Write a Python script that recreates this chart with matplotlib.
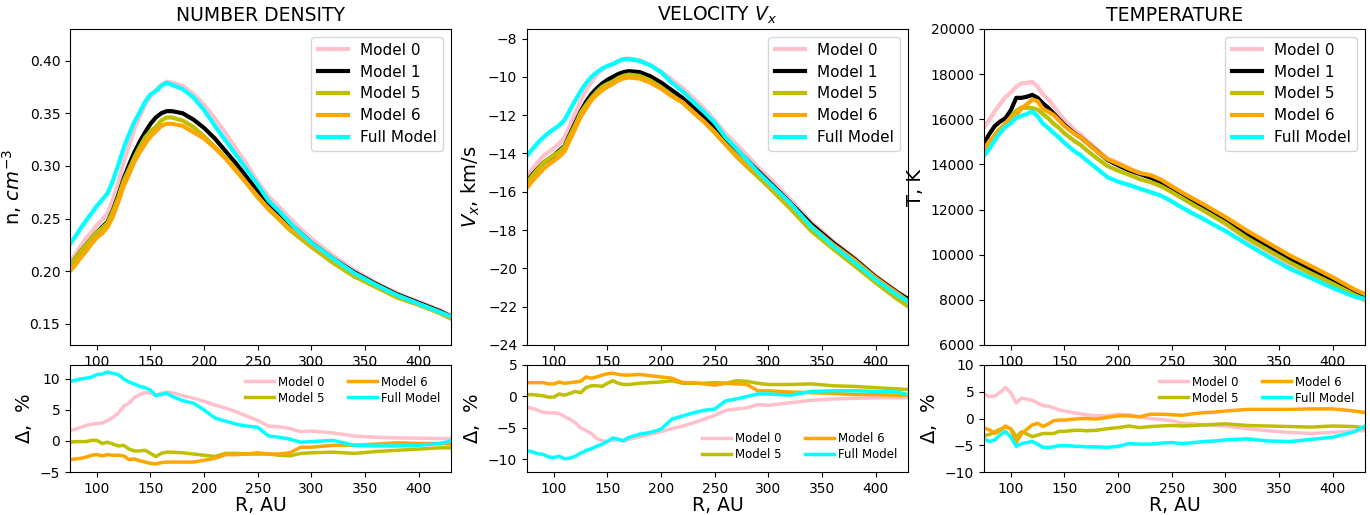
import matplotlib
matplotlib.use("Agg")
import matplotlib.pyplot as plt

R = [75, 80, 85, 90, 95, 100, 105, 110, 115, 120, 125, 130, 135, 140, 145, 150, 155, 160, 165, 170,
     180, 190, 200, 210, 220, 230, 240, 250, 260, 270, 280, 290, 300, 320, 340, 360, 380, 400, 420, 430]

models = ["Model 0", "Model 1", "Model 5", "Model 6", "Full Model"]
colors = ["pink", "black", "y", "orange", "cyan"]

# ---- number density, cm^-3
n_m0 = [.209, .216, .224, .231, .237, .244, .249, .255, .268, .284, .304, .319, .335, .347, .358, .366, .372, .377, .380, .379,
        .376, .368, .358, .345, .331, .316, .301, .285, .271, .261, .250, .240, .231, .215, .201, .189, .179, .171, .163, .158]
n_m1 = [.206, .212, .219, .225, .231, .237, .242, .247, .258, .272, .288, .301, .313, .323, .332, .340, .346, .350, .352, .352,
        .350, .344, .336, .326, .314, .302, .289, .276, .265, .255, .245, .236, .227, .212, .199, .188, .178, .170, .162, .157]
n_m5 = [.206, .212, .219, .225, .231, .237, .241, .246, .257, .270, .286, .297, .308, .318, .327, .333, .337, .343, .346, .346,
        .343, .337, .328, .318, .308, .296, .283, .270, .259, .249, .239, .231, .223, .208, .195, .185, .175, .168, .160, .155]
n_m6 = [.200, .206, .213, .219, .226, .232, .236, .242, .252, .266, .281, .292, .304, .313, .321, .328, .333, .338, .340, .340,
        .338, .332, .326, .317, .307, .295, .283, .271, .259, .250, .240, .234, .225, .211, .198, .187, .177, .169, .161, .156]
n_full = [.226, .233, .241, .248, .255, .262, .268, .274, .286, .301, .317, .330, .342, .351, .361, .368, .371, .376, .379, .377,
          .373, .365, .353, .338, .324, .310, .296, .282, .267, .257, .246, .236, .227, .212, .198, .187, .177, .169, .161, .157]

dn_m0 = [1.7, 1.9, 2.2, 2.5, 2.7, 2.8, 2.9, 3.3, 3.8, 4.5, 5.6, 6.1, 7.0, 7.5, 7.8, 7.7, 7.4, 7.7, 7.9, 7.8,
         7.3, 6.9, 6.4, 5.8, 5.3, 4.7, 4.0, 3.3, 2.4, 2.3, 2.0, 1.5, 1.6, 1.3, 0.8, 0.6, 0.5, 0.45, 0.4, 0.4]
dn_m5 = [-0.2, -0.1, -0.1, -0.1, 0.1, 0.1, -0.4, -0.2, -0.5, -0.8, -0.7, -1.3, -1.6, -1.6, -1.5, -2.0, -2.5, -2.0, -1.8, -1.8,
         -1.9, -2.1, -2.3, -2.5, -2.0, -2.0, -2.1, -2.1, -2.1, -2.3, -2.4, -2.0, -1.9, -1.8, -2.0, -1.7, -1.5, -1.3, -1.1, -1.1]
dn_m6 = [-3.0, -2.9, -2.8, -2.6, -2.3, -2.2, -2.4, -2.2, -2.3, -2.3, -2.4, -3.0, -2.9, -3.2, -3.4, -3.6, -3.7, -3.5, -3.4, -3.4,
         -3.4, -3.4, -3.1, -2.8, -2.2, -2.2, -2.1, -1.9, -2.1, -2.1, -1.9, -1.0, -1.0, -0.7, -0.7, -0.5, -0.3, -0.4, -0.4, -0.5]
dn_full = [9.6, 9.8, 10.0, 10.1, 10.3, 10.7, 10.8, 11.1, 10.9, 10.7, 10.0, 9.5, 9.2, 8.8, 8.6, 8.2, 7.3, 7.5, 7.7, 7.2,
           6.5, 6.1, 5.0, 3.7, 3.2, 2.7, 2.4, 2.2, 0.8, 0.6, 0.3, -0.2, -0.1, 0.1, -0.7, -0.8, -0.8, -0.7, -0.4, 0.0]

# ---- velocity Vx, km/s
v_m0 = [-15.19, -14.81, -14.47, -14.14, -13.93, -13.73, -13.48, -13.16, -12.53, -11.88, -11.21, -10.69, -10.26, -9.89, -9.63,
        -9.42, -9.31, -9.17, -9.06, -9.04, -9.13, -9.37, -9.72, -10.15, -10.58, -11.11, -11.66, -12.27, -12.96, -13.52,
        -14.09, -14.71, -15.23, -16.38, -17.59, -18.58, -19.44, -20.40, -21.20, -21.60]
v_m1 = [-15.45, -15.1, -14.8, -14.5, -14.3, -14.1, -13.85, -13.6, -13.0, -12.4, -11.8, -11.3, -10.9, -10.6, -10.35,
        -10.15, -10.0, -9.85, -9.75, -9.7, -9.75, -9.97, -10.3, -10.7, -11.1, -11.6, -12.1, -12.65, -13.25, -13.8,
        -14.35, -14.9, -15.45, -16.55, -17.7, -18.65, -19.5, -20.45, -21.25, -21.6]
v_m5 = [-15.50, -15.15, -14.83, -14.51, -14.29, -14.09, -13.91, -13.63, -13.07, -12.50, -11.87, -11.46, -11.09, -10.78, -10.52,
        -10.36, -10.25, -10.06, -9.94, -9.88, -9.95, -10.19, -10.54, -10.97, -11.33, -11.84, -12.35, -12.93, -13.53, -14.15,
        -14.69, -15.21, -15.74, -16.86, -18.05, -18.97, -19.85, -20.75, -21.60, -21.98]
v_m6 = [-15.79, -15.43, -15.13, -14.82, -14.59, -14.38, -14.17, -13.89, -13.29, -12.69, -12.08, -11.65, -11.22, -10.93, -10.70,
        -10.52, -10.37, -10.19, -10.08, -10.03, -10.09, -10.30, -10.62, -11.01, -11.34, -11.86, -12.34, -12.88, -13.53, -14.08,
        -14.62, -15.03, -15.59, -16.67, -17.81, -18.74, -19.56, -20.50, -21.30, -21.70]
v_full = [-14.12, -13.77, -13.45, -13.17, -12.93, -12.73, -12.53, -12.25, -11.73, -11.22, -10.74, -10.33, -10.0, -9.76, -9.56,
          -9.43, -9.34, -9.18, -9.07, -9.07, -9.17, -9.40, -9.76, -10.31, -10.76, -11.30, -11.83, -12.40, -13.16, -13.74,
          -14.35, -14.96, -15.51, -16.58, -17.84, -18.82, -19.68, -20.60, -21.40, -21.72]

dv_m0 = [-1.7, -1.9, -2.2, -2.5, -2.6, -2.6, -2.7, -3.2, -3.6, -4.2, -5.0, -5.4, -5.9, -6.7, -7.0, -7.2, -6.9, -6.9, -7.1, -6.8,
         -6.4, -6.0, -5.6, -5.1, -4.7, -4.2, -3.6, -3.0, -2.2, -2.0, -1.8, -1.3, -1.4, -1.0, -0.6, -0.4, -0.3, -0.2, -0.2, -0.2]
dv_m5 = [0.3, 0.3, 0.2, 0.1, -0.1, -0.1, 0.4, 0.2, 0.5, 0.8, 0.6, 1.4, 1.7, 1.7, 1.6, 2.1, 2.5, 2.1, 1.9, 1.9,
         2.1, 2.2, 2.3, 2.5, 2.1, 2.1, 2.1, 2.2, 2.1, 2.5, 2.4, 2.1, 1.9, 1.9, 2.0, 1.7, 1.6, 1.4, 1.2, 1.1]
dv_m6 = [2.2, 2.2, 2.2, 2.2, 2.0, 2.0, 2.3, 2.1, 2.2, 2.3, 2.4, 3.1, 2.9, 3.1, 3.4, 3.6, 3.7, 3.5, 3.4, 3.4,
         3.5, 3.3, 3.1, 2.9, 2.2, 2.2, 2.0, 1.8, 2.1, 2.0, 1.9, 0.9, 0.9, 0.7, 0.6, 0.5, 0.3, 0.3, 0.2, 0.2]
dv_full = [-8.6, -8.8, -9.1, -9.2, -9.6, -9.7, -9.5, -9.9, -9.8, -9.5, -9.0, -8.6, -8.3, -7.9, -7.6, -7.1, -6.6, -6.8, -7.0, -6.5,
           -6.0, -5.7, -5.2, -3.6, -3.1, -2.6, -2.2, -2.0, -0.7, -0.4, 0.0, 0.4, 0.4, 0.2, 0.8, 0.9, 0.9, 0.8, 0.7, 0.3]

# ---- temperature, K
t_m0 = [15638, 15979, 16359, 16679, 16981, 17187, 17442, 17594, 17612, 17661, 17442, 17101, 16880, 16575, 16256, 15971, 15737,
        15504, 15337, 15105, 14673, 14271, 14072, 13836, 13621, 13420, 13194, 12888, 12556, 12246, 11945, 11647, 11349, 10673,
        10102, 9545, 9059, 8610, 8158, 7972]
t_m1 = [14950, 15350, 15700, 15900, 16050, 16400, 16950, 16950, 17000, 17080, 16950, 16700, 16500, 16250, 16000, 15750, 15550,
        15350, 15200, 15000, 14600, 14200, 13960, 13740, 13580, 13420, 13220, 12940, 12670, 12370, 12090, 11800, 11510, 10880,
        10340, 9800, 9320, 8840, 8350, 8160]
t_m5 = [14472, 14890, 15308, 15582, 15793, 16088, 16374, 16526, 16507, 16499, 16425, 16232, 16038, 15795, 15616, 15372, 15192,
        15012, 14866, 14655, 14279, 13930, 13723, 13548, 13349, 13219, 13035, 12772, 12493, 12209, 11945, 11670, 11395, 10739,
        10195, 9653, 9171, 8716, 8225, 8013]
t_m6 = [14681, 15028, 15260, 15534, 15825, 16072, 16187, 16475, 16660, 16875, 16797, 16450, 16335, 16185, 15952, 15703, 15519,
        15335, 15200, 15000, 14585, 14228, 14030, 13809, 13621, 13527, 13326, 13031, 12746, 12481, 12223, 11942, 11671, 11065,
        10516, 9967, 9488, 8999, 8467, 8250]
t_full = [14382, 14690, 15072, 15407, 15665, 15826, 16069, 16153, 16235, 16346, 16136, 15798, 15609, 15389, 15184, 14947, 14757,
          14552, 14410, 14205, 13826, 13433, 13234, 13094, 12928, 12776, 12612, 12358, 12075, 11813, 11570, 11304, 11050, 10467,
          9906, 9379, 8957, 8531, 8141, 8046]

dt_m0 = [4.6, 4.1, 4.2, 4.9, 5.8, 4.8, 2.9, 3.8, 3.6, 3.4, 2.9, 2.4, 2.3, 2.0, 1.6, 1.4, 1.2, 1.0, 0.9, 0.7,
         0.5, 0.5, 0.8, 0.7, 0.3, 0.0, -0.2, -0.4, -0.9, -1.0, -1.2, -1.3, -1.4, -1.9, -2.3, -2.6, -2.8, -2.6, -2.3, -2.3]
dt_m5 = [-3.2, -3.0, -2.5, -2.0, -1.6, -1.9, -3.4, -2.5, -2.9, -3.4, -3.1, -2.8, -2.8, -2.8, -2.4, -2.4, -2.3, -2.2, -2.2, -2.3,
         -2.2, -1.9, -1.7, -1.4, -1.7, -1.5, -1.4, -1.3, -1.4, -1.3, -1.2, -1.1, -1.0, -1.3, -1.4, -1.5, -1.6, -1.4, -1.5, -1.8]
dt_m6 = [-1.8, -2.1, -2.8, -2.3, -1.4, -2.0, -4.5, -2.8, -2.0, -1.2, -0.9, -1.5, -1.0, -0.4, -0.3, -0.3, -0.2, -0.1, 0.0, 0.0,
         -0.1, 0.2, 0.5, 0.5, 0.3, 0.8, 0.8, 0.7, 0.6, 0.9, 1.1, 1.2, 1.4, 1.7, 1.7, 1.7, 1.8, 1.8, 1.4, 1.1]
dt_full = [-3.8, -4.3, -4.0, -3.1, -2.4, -3.5, -5.2, -4.7, -4.5, -4.3, -4.8, -5.4, -5.4, -5.3, -5.1, -5.1, -5.1, -5.2, -5.2, -5.3,
           -5.3, -5.4, -5.2, -4.7, -4.8, -4.8, -4.6, -4.5, -4.7, -4.5, -4.3, -4.2, -4.0, -3.8, -4.2, -4.3, -3.9, -3.5, -2.5, -1.4]

panels = [
    dict(title="NUMBER DENSITY", ylabel=r"n, $cm^{-3}$", top=[n_m0, n_m1, n_m5, n_m6, n_full],
         bot=[dn_m0, dn_m5, dn_m6, dn_full], ylim=(0.13, 0.43), dylim=(-5, 12.25), dyticks=[-5, 0, 5, 10],
         yticks=[0.15, 0.20, 0.25, 0.30, 0.35, 0.40], yfmt="{:.2f}", dloc="upper right"),
    dict(title=r"VELOCITY $V_x$", ylabel=r"$V_x$, km/s", top=[v_m0, v_m1, v_m5, v_m6, v_full],
         bot=[dv_m0, dv_m5, dv_m6, dv_full], ylim=(-24, -7.5), dylim=(-12, 5), dyticks=[-10, -5, 0, 5],
         yticks=[-24, -22, -20, -18, -16, -14, -12, -10, -8], yfmt=None, dloc="lower right"),
    dict(title="TEMPERATURE", ylabel="T, K", top=[t_m0, t_m1, t_m5, t_m6, t_full],
         bot=[dt_m0, dt_m5, dt_m6, dt_full], ylim=(6000, 20000), dylim=(-10, 10), dyticks=[-10, -5, 0, 5, 10],
         yticks=[6000, 8000, 10000, 12000, 14000, 16000, 18000, 20000], yfmt=None, dloc="upper right"),
]

fig = plt.figure(figsize=(13.7, 5.15), dpi=100)
lefts = [70 / 1370, 527 / 1370, 984 / 1370]
w = 381 / 1370
top_b, top_h = 1 - 345 / 515, (345 - 29) / 515
bot_b, bot_h = 1 - 472 / 515, (472 - 365) / 515

dmodels = ["Model 0", "Model 5", "Model 6", "Full Model"]
dcolors = ["pink", "y", "orange", "cyan"]

for i, p in enumerate(panels):
    ax = fig.add_axes([lefts[i], top_b, w, top_h])
    for lab, col, ys in zip(models, colors, p["top"]):
        ax.plot(R, ys, color=col, lw=3, label=lab)
    ax.set_xlim(75, 430)
    ax.set_ylim(*p["ylim"])
    ax.set_yticks(p["yticks"])
    if p["yfmt"]:
        ax.set_yticklabels([p["yfmt"].format(t) for t in p["yticks"]])
    ax.set_xticks([100, 150, 200, 250, 300, 350, 400])
    ax.set_title(p["title"], fontsize=13.5)
    ax.set_ylabel(p["ylabel"], fontsize=14)
    ax.tick_params(labelsize=10)
    ax.legend(loc="upper right", fontsize=11, labelspacing=0.45)

    bx = fig.add_axes([lefts[i], bot_b, w, bot_h])
    for lab, col, ys in zip(dmodels, dcolors, p["bot"]):
        bx.plot(R, ys, color=col, lw=2.5, label=lab)
    bx.set_xlim(75, 430)
    bx.set_ylim(*p["dylim"])
    bx.set_yticks(p["dyticks"])
    bx.set_xticks([100, 150, 200, 250, 300, 350, 400])
    bx.set_xlabel("R, AU", fontsize=13.5, labelpad=0)
    bx.set_ylabel(r"$\Delta$,  %", fontsize=14)
    bx.tick_params(labelsize=10)
    bx.legend(loc=p["dloc"], ncol=2, fontsize=8.5, frameon=False, handlelength=2.5,
              handletextpad=0.3, labelspacing=0.25)

fig.savefig("out.png", dpi=100)
